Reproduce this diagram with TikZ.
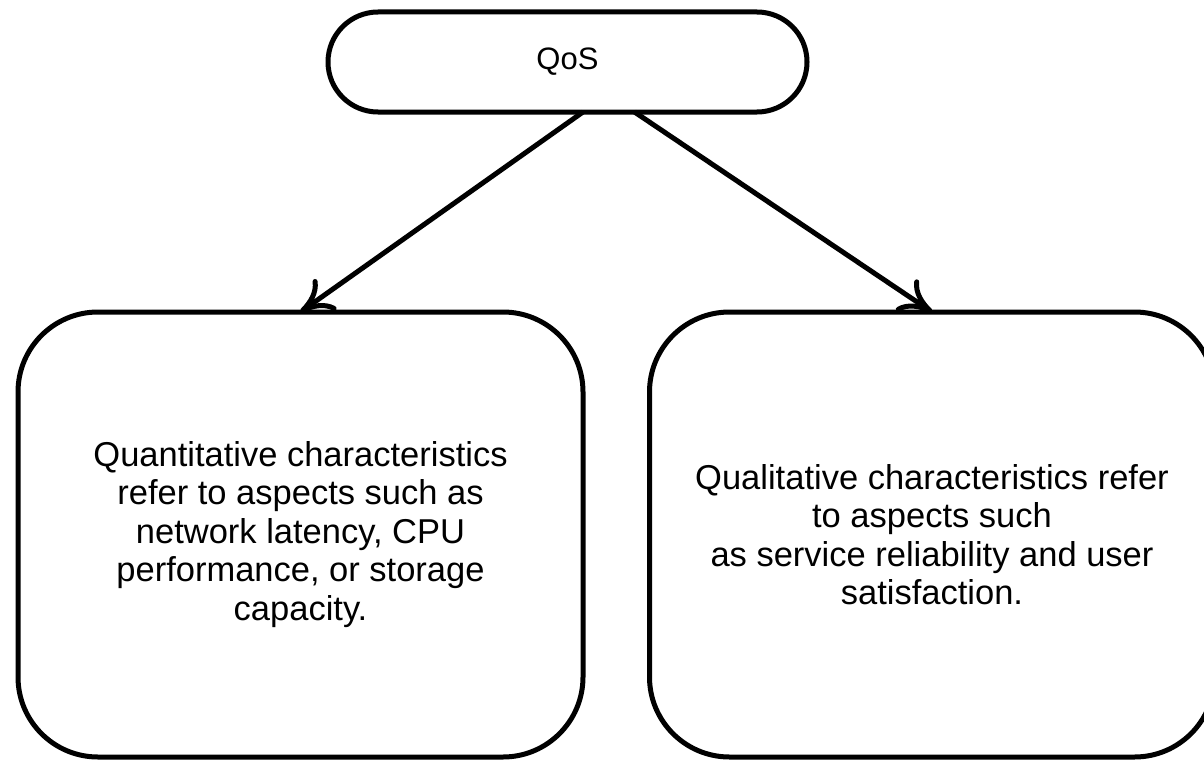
\documentclass[tikz,border=0pt]{standalone}
\usepackage{fontspec}
\setmainfont{Liberation Sans}
\usetikzlibrary{arrows.meta}
\begin{document}
\begin{tikzpicture}[x=1pt,y=-1pt,
  box/.style={draw=black,line width=5pt,fill=white,outer sep=0pt,align=center,
    font=\fontsize{34.5}{38.5}\selectfont},
  conn/.style={line width=5pt,-{Computer Modern Rightarrow[length=32pt,width=38pt]}}]
\clip (0,0) rectangle (1204,760);
\fill[white] (0,0) rectangle (1204,760);
\node[box,minimum width=479pt,minimum height=100pt,rounded corners=50pt,
  font=\fontsize{31}{36}\selectfont] (qos) at (567.5,62) {QoS};
\node[box,minimum width=565pt,minimum height=445pt,rounded corners=80pt] (L) at (300.5,534.5)
  {Quantitative characteristics\\refer to aspects such as\\network latency, CPU\\performance, or storage\\capacity.};
\node[box,minimum width=565pt,minimum height=445pt,rounded corners=80pt] (R) at (932,534.5)
  {Qualitative characteristics refer\\to aspects such\\as service reliability and user\\satisfaction.};
\coordinate (qa) at ([xshift=15.5pt]qos.south);
\coordinate (qb) at ([xshift=67pt]qos.south);
\draw[conn] (qa) -- (L.north);
\draw[conn] (qb) -- (R.north);
\end{tikzpicture}
\end{document}
